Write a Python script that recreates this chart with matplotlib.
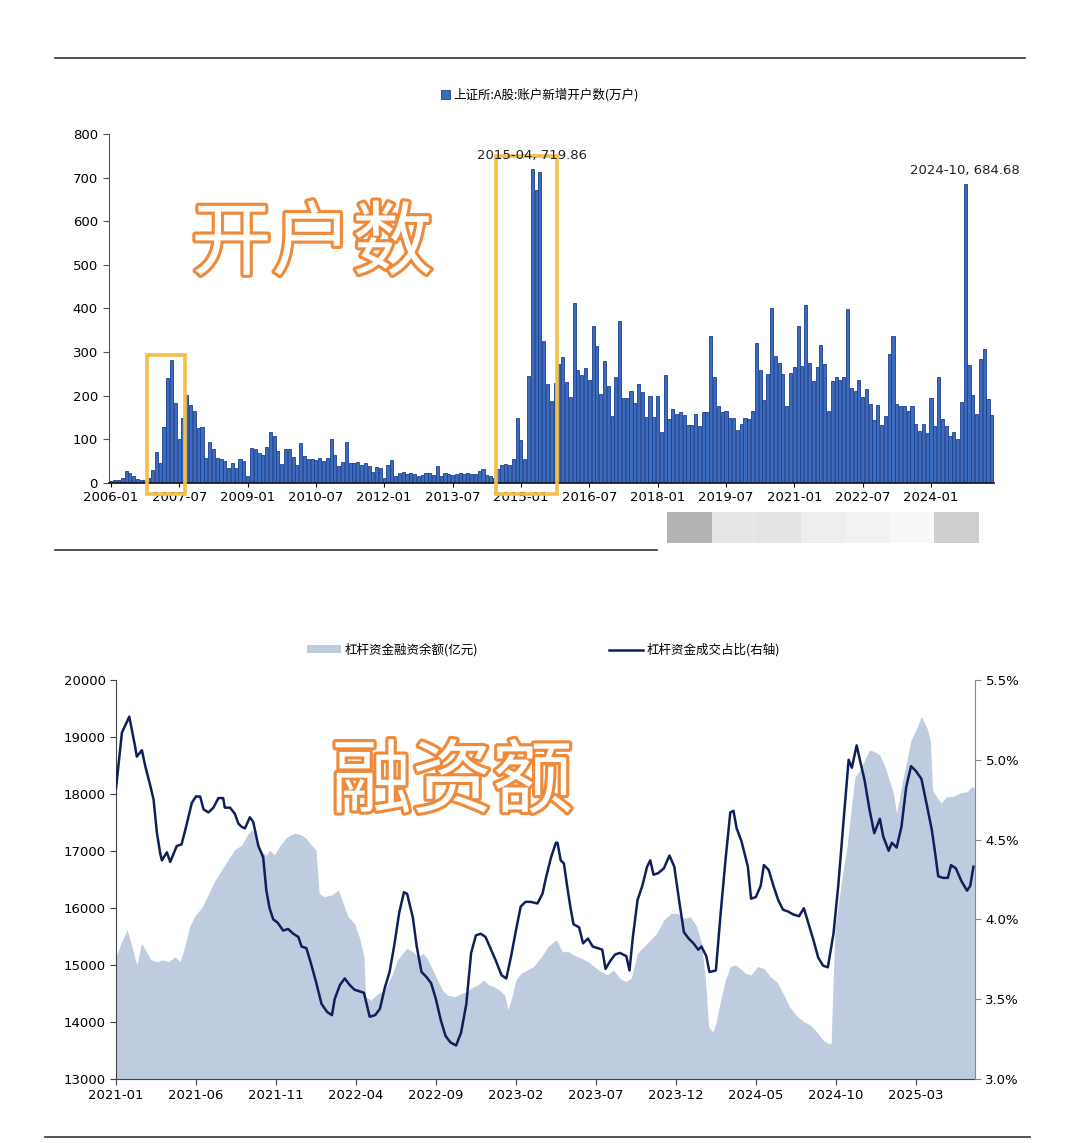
import matplotlib.pyplot as plt
import matplotlib.patheffects as pe
from matplotlib.patches import Rectangle, Patch
from matplotlib.lines import Line2D
import numpy as np

CJK = ['Noto Sans CJK SC', 'DejaVu Sans']
plt.rcParams['font.family'] = ['DejaVu Sans', 'Noto Sans CJK SC']

# ---- top: 上证所新增开户数 (monthly, from 2006-01) ----
first_year = 2006
new_accounts = (
    [4, 6, 8, 12, 27, 23, 15, 10, 8, 8, 12, 31]                          # 2006
    + [71, 45, 128, 241, 282, 183, 100, 150, 202, 179, 165, 127]         # 2007
    + [128, 58, 95, 77, 58, 54, 50, 35, 46, 35, 54, 50]                  # 2008
    + [15, 80, 77, 69, 65, 83, 118, 108, 73, 44, 77, 78]                 # 2009
    + [60, 42, 92, 62, 56, 54, 52, 58, 51, 58, 101, 65]                  # 2010
    + [38, 48, 94, 46, 45, 48, 41, 46, 40, 25, 37, 35]                   # 2011
    + [12, 42, 52, 15, 23, 25, 20, 22, 20, 15, 18, 23]                   # 2012
    + [22, 18, 40, 15, 22, 20, 18, 20, 22, 20, 22, 20]                   # 2013
    + [20, 27, 33, 18, 15, 12, 32, 41, 43, 42, 55, 150]                  # 2014
    + [99, 55, 246, 719.86, 672, 712, 326, 227, 187, 230, 273, 288]      # 2015
    + [231, 198, 412, 259, 248, 263, 236, 361, 315, 204, 280, 222]       # 2016
    + [154, 242, 372, 196, 195, 210, 183, 228, 208, 152, 199, 152]       # 2017
    + [200, 118, 248, 147, 169, 158, 162, 156, 134, 134, 159, 130]       # 2018
    + [162, 162, 336, 243, 177, 162, 164, 150, 150, 122, 135, 150]       # 2019
    + [147, 164, 322, 260, 191, 250, 401, 292, 276, 250, 177, 252]       # 2020
    + [266, 359, 269, 408, 276, 234, 266, 317, 273, 164, 233, 243]       # 2021
    + [237, 244, 398, 218, 210, 237, 198, 215, 182, 145, 178, 134]       # 2022
    + [154, 296, 336, 182, 176, 176, 164, 176, 136, 120, 136, 115]       # 2023
    + [196, 131, 243, 147, 130, 108, 117, 101, 185, 684.68, 270, 201]    # 2024
    + [159, 284, 308, 193, 156]                                          # 2025
)
highlight_spans = [("2006-11", "2007-08"), ("2014-07", "2015-10")]
peak_labels = ["2015-04", "2024-10"]

# ---- bottom: 杠杆资金 (x = months since 2021-01) ----
balance_pts = [
    (0.0, 15146), (0.3, 15380), (0.7, 15614), (1.0, 15322), (1.3, 15000), (1.6, 15380),
    (1.9, 15234), (2.2, 15088), (2.55, 15058), (2.9, 15088), (3.3, 15058), (3.7, 15146),
    (4.0, 15058), (4.3, 15322), (4.6, 15673), (4.9, 15848), (5.4, 16023), (5.8, 16257),
    (6.2, 16491), (6.6, 16667), (7.0, 16842), (7.4, 17018), (7.86, 17105), (8.27, 17310),
    (8.5, 17368), (8.7, 17310), (8.9, 17076), (9.1, 16988), (9.4, 16930), (9.6, 17018),
    (9.9, 16930), (10.2, 17076), (10.6, 17222), (10.9, 17281), (11.2, 17310), (11.6, 17281),
    (11.9, 17222), (12.2, 17105), (12.5, 17018), (12.7, 16257), (13.0, 16199), (13.5, 16228),
    (13.9, 16316), (14.2, 16082), (14.5, 15848), (14.9, 15731), (15.2, 15497), (15.5, 15146),
    (15.6, 14444), (15.96, 14386), (16.4, 14503), (16.8, 14561), (17.2, 14795), (17.6, 15088),
    (17.9, 15205), (18.2, 15292), (18.56, 15234), (18.9, 15146), (19.2, 15205), (19.5, 15088),
    (19.8, 14912), (20.1, 14737), (20.4, 14561), (20.7, 14474), (21.2, 14444), (21.6, 14503),
    (21.9, 14532), (22.2, 14591), (22.6, 14649), (23.0, 14737), (23.3, 14649), (23.65, 14620),
    (23.96, 14561), (24.3, 14474), (24.5, 14211), (24.7, 14386), (25.0, 14737), (25.3, 14854),
    (25.7, 14912), (26.1, 14971), (26.6, 15146), (27.0, 15322), (27.5, 15439), (27.6, 15409),
    (27.9, 15234), (28.3, 15234), (28.6, 15175), (29.1, 15117), (29.5, 15058), (29.9, 14971),
    (30.3, 14883), (30.7, 14825), (31.1, 14912), (31.5, 14766), (31.85, 14708), (32.2, 14766),
    (32.6, 15205), (33.0, 15322), (33.4, 15439), (33.8, 15556), (34.25, 15790), (34.7, 15906),
    (35.1, 15906), (35.5, 15819), (35.9, 15848), (36.3, 15673), (36.6, 15380), (36.85, 14737),
    (37.05, 13918), (37.3, 13830), (37.5, 13977), (37.8, 14386), (38.1, 14737), (38.4, 14971),
    (38.7, 15000), (39.0, 14942), (39.35, 14854), (39.7, 14825), (40.1, 14971), (40.5, 14942),
    (40.9, 14795), (41.3, 14708), (41.7, 14503), (42.1, 14269), (42.6, 14094), (43.0, 14006),
    (43.4, 13947), (43.8, 13830), (44.2, 13684), (44.5, 13626), (44.7, 13626), (44.95, 15673),
    (45.4, 16550), (45.7, 17076), (46.0, 17836), (46.2, 18304), (46.5, 18421), (46.8, 18596),
    (47.1, 18772), (47.4, 18743), (47.75, 18684), (48.07, 18480), (48.4, 18187), (48.6, 18012),
    (48.8, 17661), (49.1, 18129), (49.4, 18538), (49.7, 18947), (50.0, 19123), (50.35, 19357),
    (50.7, 19152), (50.9, 18947), (51.05, 18070), (51.3, 17953), (51.6, 17836), (51.9, 17953),
    (52.3, 17953), (52.7, 18012), (53.2, 18041), (53.5, 18129), (53.7, 18100),
]
share_pts = [
    (0.0, 4.82), (0.37, 5.17), (0.83, 5.27), (1.2, 5.08), (1.3, 5.02), (1.62, 5.06),
    (1.83, 4.96), (2.14, 4.84), (2.35, 4.75), (2.56, 4.54), (2.77, 4.41), (2.87, 4.37),
    (3.18, 4.42), (3.39, 4.36), (3.8, 4.46), (4.1, 4.47), (4.43, 4.60), (4.74, 4.73),
    (5.0, 4.77), (5.26, 4.77), (5.47, 4.69), (5.78, 4.67), (6.09, 4.70), (6.4, 4.76),
    (6.7, 4.76), (6.8, 4.70), (7.13, 4.70), (7.44, 4.66), (7.65, 4.60), (7.86, 4.58),
    (8.06, 4.57), (8.37, 4.64), (8.58, 4.61), (8.9, 4.46), (9.2, 4.39), (9.4, 4.18),
    (9.6, 4.07), (9.83, 4.00), (10.1, 3.98), (10.45, 3.93), (10.76, 3.94), (11.08, 3.91),
    (11.4, 3.89), (11.6, 3.83), (11.9, 3.82), (12.2, 3.72), (12.5, 3.61), (12.85, 3.47),
    (13.2, 3.42), (13.5, 3.40), (13.67, 3.50), (14.0, 3.59), (14.3, 3.63), (14.6, 3.59),
    (14.9, 3.56), (15.2, 3.55), (15.5, 3.54), (15.86, 3.39), (16.2, 3.40), (16.5, 3.44),
    (16.8, 3.57), (17.1, 3.67), (17.4, 3.84), (17.7, 4.04), (18.0, 4.17), (18.2, 4.16),
    (18.56, 4.01), (18.8, 3.83), (19.1, 3.67), (19.4, 3.64), (19.7, 3.60), (20.0, 3.50),
    (20.3, 3.37), (20.6, 3.27), (20.9, 3.23), (21.26, 3.21), (21.57, 3.29), (21.9, 3.47),
    (22.2, 3.79), (22.5, 3.90), (22.8, 3.91), (23.1, 3.89), (23.4, 3.82), (23.75, 3.74),
    (24.1, 3.65), (24.4, 3.63), (24.7, 3.77), (25.0, 3.93), (25.3, 4.08), (25.6, 4.11),
    (25.9, 4.11), (26.35, 4.10), (26.66, 4.16), (26.9, 4.27), (27.2, 4.39), (27.5, 4.48),
    (27.6, 4.48), (27.8, 4.37), (28.0, 4.35), (28.2, 4.21), (28.4, 4.08), (28.6, 3.97),
    (28.95, 3.95), (29.2, 3.85), (29.5, 3.88), (29.8, 3.83), (30.1, 3.82), (30.4, 3.81),
    (30.6, 3.69), (30.9, 3.74), (31.2, 3.78), (31.5, 3.79), (31.9, 3.77), (32.1, 3.68),
    (32.3, 3.88), (32.6, 4.12), (32.9, 4.21), (33.2, 4.33), (33.4, 4.37), (33.6, 4.28),
    (33.9, 4.29), (34.25, 4.32), (34.6, 4.40), (34.9, 4.33), (35.2, 4.12), (35.5, 3.92),
    (35.8, 3.88), (36.1, 3.85), (36.4, 3.81), (36.6, 3.83), (36.9, 3.77), (37.1, 3.67),
    (37.5, 3.68), (37.8, 4.04), (38.1, 4.37), (38.4, 4.67), (38.6, 4.68), (38.8, 4.57),
    (39.1, 4.49), (39.5, 4.33), (39.7, 4.13), (40.0, 4.14), (40.3, 4.21), (40.5, 4.34),
    (40.8, 4.31), (41.1, 4.21), (41.4, 4.12), (41.7, 4.06), (42.0, 4.05), (42.35, 4.03),
    (42.7, 4.02), (43.0, 4.07), (43.3, 3.97), (43.6, 3.87), (43.9, 3.76), (44.2, 3.71),
    (44.5, 3.70), (44.85, 3.91), (45.15, 4.21), (45.5, 4.64), (45.8, 5.00), (46.0, 4.95),
    (46.3, 5.09), (46.5, 5.00), (46.8, 4.87), (47.1, 4.69), (47.4, 4.54), (47.75, 4.63),
    (47.96, 4.52), (48.3, 4.43), (48.5, 4.48), (48.8, 4.45), (49.1, 4.58), (49.4, 4.83),
    (49.7, 4.96), (50.0, 4.93), (50.35, 4.88), (50.7, 4.71), (51.0, 4.56), (51.2, 4.42),
    (51.4, 4.27), (51.7, 4.26), (52.0, 4.26), (52.2, 4.34), (52.5, 4.32), (52.85, 4.24),
    (53.2, 4.18), (53.4, 4.21), (53.6, 4.33),
]
bottom_start_year = 2021

# blurred watermark strip under the top chart
watermark_shades = ['#B4B4B4', '#E6E6E6', '#E4E4E4', '#EEEEEE', '#F2F2F2', '#F8F8F8', '#CFCFCF']


def month_label(i, y0):
    return f"{y0 + i // 12}-{i % 12 + 1:02d}"


def month_index(label, y0):
    y, m = label.split('-')
    return (int(y) - y0) * 12 + int(m) - 1


fig = plt.figure(figsize=(10.8, 11.43), dpi=100)

# ================= top chart =================
ax1 = fig.add_axes([0.1009, 0.5774, 0.8195, 0.3054])
idx = np.arange(len(new_accounts))
ax1.bar(idx, new_accounts, width=0.82, color='#3C6CC0', edgecolor='#1D3F8E',
        linewidth=0.6, label='上证所:A股:账户新增开户数(万户)')
ax1.set_xlim(-0.5, len(new_accounts) - 0.4)
ax1.set_ylim(0, 800)
ax1.set_yticks(range(0, 801, 100))
xt = list(range(0, len(new_accounts), 18))
ax1.set_xticks(xt)
ax1.set_xticklabels([month_label(i, first_year) for i in xt])
for s in ['top', 'right']:
    ax1.spines[s].set_visible(False)
ax1.spines['left'].set_color('#555555')
ax1.spines['bottom'].set_color('#111111')
ax1.spines['bottom'].set_linewidth(1.2)
ax1.tick_params(axis='y', labelsize=9.5, length=4, color='#555555', pad=4)
ax1.tick_params(axis='x', labelsize=9.5, length=3, pad=3)

for start, end in highlight_spans:
    a, b = month_index(start, first_year), month_index(end, first_year)
    top = max(new_accounts[a:b + 1]) * 1.04
    ax1.add_patch(Rectangle((a - 0.5, -24), b - a + 1, top + 24, fill=False,
                            edgecolor='#F2C04A', linewidth=2.6, clip_on=False, zorder=5))

for lab in peak_labels:
    i = month_index(lab, first_year)
    ax1.annotate(f"{lab}, {new_accounts[i]:.2f}", (i, new_accounts[i]),
                 xytext=(0, 5), textcoords='offset points', ha='center', va='bottom',
                 fontsize=9.5, color='#222222', zorder=6)

ax1.legend(loc='center', bbox_to_anchor=(0.487, 1.112), frameon=False,
           handlelength=0.7, handleheight=0.7, handletextpad=0.3,
           prop={'family': CJK, 'size': 9})

fig.text(312 / 1080, 1 - 245 / 1143, '开户数', family=CJK, fontsize=58, color='white',
         ha='center', va='center',
         path_effects=[pe.Stroke(linewidth=4.5, foreground='#EF8A3A'), pe.Normal()])

# ================= bottom chart =================
ax2 = fig.add_axes([0.1074, 0.0560, 0.7954, 0.3491])
ax2r = ax2.twinx()
bm = [p[0] for p in balance_pts]
bv = [p[1] for p in balance_pts]
sm = [p[0] for p in share_pts]
sv = [p[1] for p in share_pts]
ax2.fill_between(bm, 13000, bv, color='#BFCBDF', linewidth=0)
ax2r.plot(sm, sv, color='#0F1F5A', linewidth=1.8)

ax2.set_xlim(0.1, 53.7)
ax2.set_ylim(13000, 20000)
ax2.set_yticks(range(13000, 20001, 1000))
ax2r.set_ylim(3.0, 5.5)
ax2r.set_yticks(np.arange(3.0, 5.51, 0.5))
ax2r.set_yticklabels([f"{v:.1f}%" for v in np.arange(3.0, 5.51, 0.5)])
bx = list(range(0, 54, 5))
ax2.set_xticks(bx)
ax2.set_xticklabels([month_label(i, bottom_start_year) for i in bx])

ax2.spines['top'].set_visible(False)
ax2.spines['right'].set_visible(False)
ax2r.spines['top'].set_visible(False)
ax2r.spines['left'].set_visible(False)
ax2r.spines['bottom'].set_visible(False)
ax2.spines['left'].set_color('#444444')
ax2.spines['bottom'].set_color('#444444')
ax2r.spines['right'].set_color('#888888')
ax2.tick_params(axis='both', labelsize=9.5, length=4, color='#444444')
ax2r.tick_params(axis='y', labelsize=9.5, length=4, color='#888888')

handles = [Patch(facecolor='#BFCBDF', edgecolor='none'),
           Line2D([0], [0], color='#0F1F5A', linewidth=1.8)]
ax2.legend(handles, ['杠杆资金融资余额(亿元)', '杠杆资金成交占比(右轴)'], loc='center',
           bbox_to_anchor=(0.498, 1.075), ncol=2, frameon=False, columnspacing=10.5,
           handlelength=2.7, handleheight=0.6, handletextpad=0.3,
           prop={'family': CJK, 'size': 9})

fig.text(452 / 1080, 1 - 783 / 1143, '融资额', family=CJK, fontsize=58, color='white',
         ha='center', va='center',
         path_effects=[pe.Stroke(linewidth=4.5, foreground='#EF8A3A'), pe.Normal()])

# separators between the two panels
fig.add_artist(Line2D([0.051, 0.949], [0.9493, 0.9493], color='#333333', lw=1.2))
fig.add_artist(Line2D([0.051, 0.608], [0.5188, 0.5188], color='#333333', lw=1.2))
fig.add_artist(Line2D([0.042, 0.954], [0.0052, 0.0052], color='#333333', lw=1.2))

# watermark strip
wx0, wx1 = 667 / 1080, 979 / 1080
wseg = (wx1 - wx0) / len(watermark_shades)
for k, shade in enumerate(watermark_shades):
    fig.add_artist(Rectangle((wx0 + k * wseg, 1 - 543 / 1143), wseg, 31 / 1143,
                             transform=fig.transFigure, facecolor=shade, edgecolor='none'))

fig.savefig('out.png', dpi=100)
